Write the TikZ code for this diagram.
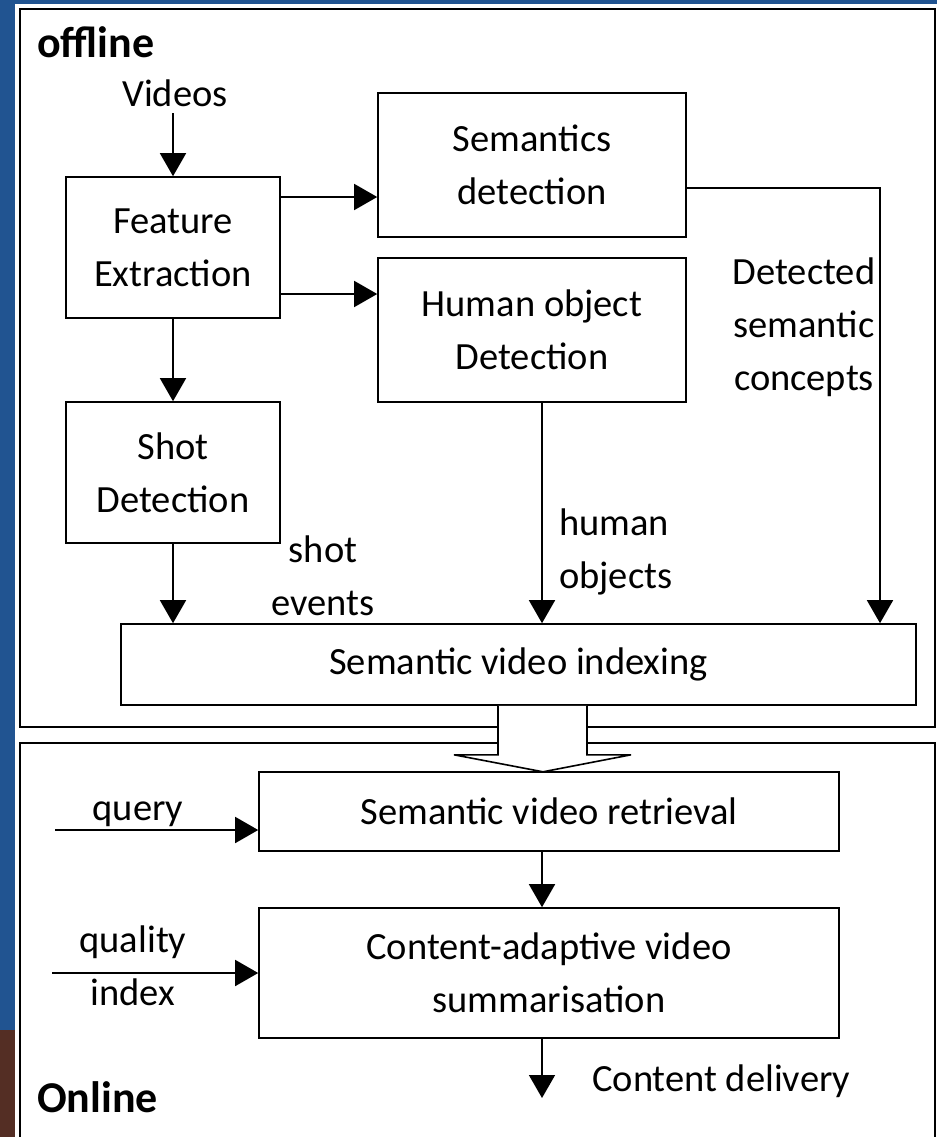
\documentclass[tikz,border=0pt]{standalone}
\usepackage{fontspec}
\setmainfont{Carlito}
\usepackage{tikz}
\usetikzlibrary{arrows.meta}

\definecolor{slideblue}{RGB}{33,84,145}
\definecolor{slidephoto}{RGB}{84,46,36}

\begin{document}
\begin{tikzpicture}[x=1pt,y=-1pt,
                    txt/.style={font=\fontsize{38.5pt}{53pt}\selectfont,inner sep=0pt},
                    head/.style={font=\fontsize{44pt}{48pt}\selectfont\bfseries,inner sep=0pt},
                    box/.style={draw,line width=1.6pt,fill=white,align=center,inner sep=0pt,
                                font=\fontsize{38.5pt}{53pt}\selectfont},
                    arr/.style={line width=1.6pt,-{Triangle[length=23pt,width=26pt]}}]
                              % Background
                              \useasboundingbox (0,0) rectangle (937,1137);
                              \fill[slideblue] (0,0) rectangle (937,1137);
                              \fill[slidephoto] (0,1030) rectangle (15,1137);
                              \fill[white] (15,4) rectangle (937,1137);

                              % Panels
                              \draw[line width=1.6pt] (20,9) rectangle (935,727);
                              \draw[line width=1.6pt] (20,743) rectangle (935,1150);
                              \node[head,anchor=base west] (offl) at (37,58) {offline};
                              \node[head,anchor=base west] (onl) at (37,1112) {Online};

                              % Offline boxes
                              \node[box,minimum width=214pt,minimum height=141pt] (feat) at (173,247.5) {Feature\\Extraction};
                              \node[box,minimum width=308pt,minimum height=144pt] (sem) at (532,165) {Semantics\\detection};
                              \node[box,minimum width=308pt,minimum height=144pt] (human) at (532,330) {Human object\\Detection};
                              \node[box,minimum width=214pt,minimum height=141pt] (shot) at (173,472.5) {Shot\\Detection};
                              \node[box,minimum width=795pt,minimum height=81pt] (index) at (518.5,664.5) {Semantic video indexing};

                              % Online boxes
                              \node[box,minimum width=580pt,minimum height=79pt] (retr) at (549,811.5) {Semantic video retrieval};
                              \node[box,minimum width=580pt,minimum height=130pt] (summ) at (549,973) {Content-adaptive video\\summarisation};

                              % Offline arrows
                              \node[txt,anchor=base,inner ysep=6pt] (vid) at (175,107) {Videos};
                              \draw[arr] (vid.south -| feat.north) -- (feat.north);
                              \draw[arr] ([yshift=-32pt]sem.west -| feat.east) -- ([yshift=-32pt]sem.west);
                              \draw[arr] ([yshift=36pt]human.west -| feat.east) -- ([yshift=36pt]human.west);
                              \draw[arr] (feat.south) -- (shot.north);
                              \draw[arr] (shot.south) -- (shot.south |- index.north);
                              \draw[arr] ([xshift=10pt]human.south) -- ([xshift=10pt]human.south |- index.north);
                              \draw[arr] ([yshift=-23pt]sem.east) -| ([xshift=361.5pt]index.north);
                              \node[txt,anchor=base,align=center] (shotlbl) at (323,615) {shot\\events};
                              \node[txt,anchor=base west,align=left] (humlbl) at (559,588) {human\\objects};
                              \node[txt,anchor=base,align=center] (detlbl) at (804,390) {Detected\\semantic\\concepts};

                              % Hand-over to online
                              \draw[line width=1.6pt,fill=white] ([xshift=-20.5pt]index.south) -- ++(0,49) -- ++(-44,0)
                              -- ++(89,17) -- ++(88,-17) -- ++(-44,0) -- ++(0,-49);

                              % Online arrows
                              \coordinate (q) at (55,830);
                              \coordinate (qi) at (52,973);
                              \coordinate (out) at (542,1098);
                              \draw[arr] (q) -- (q -| retr.west);
                              \draw[arr] (qi) -- (qi -| summ.west);
                              \draw[arr] ([xshift=-7pt]retr.south) -- ([xshift=-7pt]summ.north);
                              \draw[arr] ([xshift=-7pt]summ.south) -- (out);
                              \node[txt,anchor=base] (qlbl) at (138,820) {query};
                              \node[txt,anchor=base,align=center] (qilbl) at (133,1005) {quality\\index};
                              \node[txt,anchor=base west] (dellbl) at (592,1091) {Content delivery};
                        \end{tikzpicture}
\end{document}
